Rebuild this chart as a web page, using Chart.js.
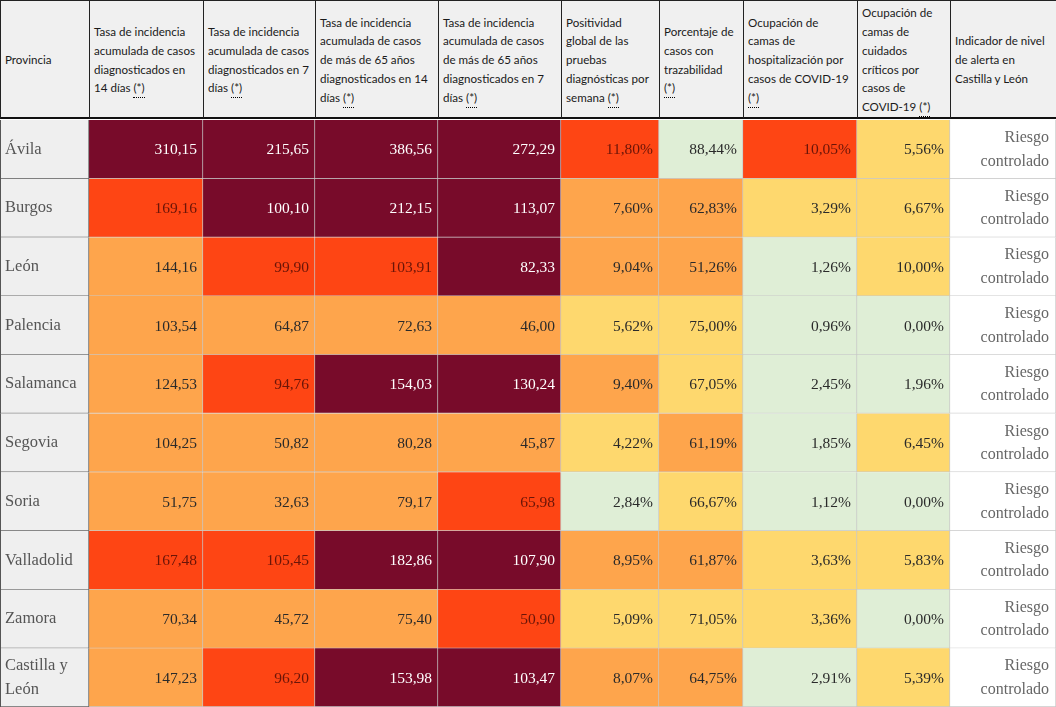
<!DOCTYPE html>
<html lang="es">
<head>
    <meta charset="UTF-8">
    <title>Indicadores COVID-19 Castilla y León</title>
    <script src="https://cdn.jsdelivr.net/npm/chart.js"></script>
    <style>
        body { margin: 0; background: #fff; }
        #wrap { position: relative; width: 1056px; height: 707px; overflow: hidden; }
        #cabecera { position: absolute; left: 0; top: 0; width: 1056px; height: 120px; }
        .th {
            position: absolute; top: 0; height: 119px; box-sizing: border-box;
            background: #f0f0f0; border-top: 1px solid #222; border-left: 1px solid #222;
            border-bottom: 2px solid #111; display: flex; align-items: center;
            padding: 3px 4px 0 4px; font-family: Lato, sans-serif; font-size: 11.6px;
            line-height: 18.8px; color: #1a1a1a; white-space: nowrap;
        }
        .th abbr { text-decoration: none; border-bottom: 1px dotted #000; padding-bottom: 3px; }
        #zona { position: absolute; left: 0; top: 120px; }
    </style>
</head>
<body>
<div id="wrap">
    <div id="cabecera"></div>
    <div id="zona"><canvas id="tabla" width="1056" height="587"></canvas></div>
</div>
<script>
    // datos
    const provincias = ['Ávila', 'Burgos', 'León', 'Palencia', 'Salamanca', 'Segovia', 'Soria', 'Valladolid', 'Zamora', 'Castilla y León'];
    const ia14 = [310.15, 169.16, 144.16, 103.54, 124.53, 104.25, 51.75, 167.48, 70.34, 147.23];
    const ia7 = [215.65, 100.10, 99.90, 64.87, 94.76, 50.82, 32.63, 105.45, 45.72, 96.20];
    const ia14Mayores = [386.56, 212.15, 103.91, 72.63, 154.03, 80.28, 79.17, 182.86, 75.40, 153.98];
    const ia7Mayores = [272.29, 113.07, 82.33, 46.00, 130.24, 45.87, 65.98, 107.90, 50.90, 103.47];
    const positividad = [11.80, 7.60, 9.04, 5.62, 9.40, 4.22, 2.84, 8.95, 5.09, 8.07];
    const trazabilidad = [88.44, 62.83, 51.26, 75.00, 67.05, 61.19, 66.67, 61.87, 71.05, 64.75];
    const camasHosp = [10.05, 3.29, 1.26, 0.96, 2.45, 1.85, 1.12, 3.63, 3.36, 2.91];
    const camasUci = [5.56, 6.67, 10.00, 0.00, 1.96, 6.45, 0.00, 5.83, 0.00, 5.39];
    const indicador = provincias.map(() => 'Riesgo controlado');

    // nivel de riesgo de cada celda: 0 nueva normalidad, 1 bajo, 2 medio, 3 alto, 4 muy alto
    const nivelIa14 = [4, 3, 2, 2, 2, 2, 2, 3, 2, 2];
    const nivelIa7 = [4, 4, 3, 2, 3, 2, 2, 3, 2, 3];
    const nivelIa14Mayores = [4, 4, 3, 2, 4, 2, 2, 4, 2, 4];
    const nivelIa7Mayores = [4, 4, 4, 2, 4, 2, 3, 4, 3, 4];
    const nivelPositividad = [3, 2, 2, 1, 2, 1, 0, 2, 1, 2];
    const nivelTrazabilidad = [0, 2, 2, 1, 1, 2, 1, 2, 1, 2];
    const nivelCamasHosp = [3, 1, 0, 0, 0, 0, 0, 1, 1, 0];
    const nivelCamasUci = [1, 1, 1, 0, 0, 1, 0, 1, 0, 1];

    const ast = '<abbr>(*)</abbr>';
    const cabeceras = [
        ['Provincia'],
        ['Tasa de incidencia', 'acumulada de casos', 'diagnosticados en', '14 días ' + ast],
        ['Tasa de incidencia', 'acumulada de casos', 'diagnosticados en 7', 'días ' + ast],
        ['Tasa de incidencia', 'acumulada de casos', 'de más de 65 años', 'diagnosticados en 14', 'días ' + ast],
        ['Tasa de incidencia', 'acumulada de casos', 'de más de 65 años', 'diagnosticados en 7', 'días ' + ast],
        ['Positividad', 'global de las', 'pruebas', 'diagnósticas por', 'semana ' + ast],
        ['Porcentaje de', 'casos con', 'trazabilidad', ast],
        ['Ocupación de', 'camas de', 'hospitalización por', 'casos de COVID-19', ast],
        ['Ocupación de', 'camas de', 'cuidados', 'críticos por', 'casos de', 'COVID-19 ' + ast],
        ['Indicador de nivel', 'de alerta en', 'Castilla y León']
    ];

    // maquetación
    const bordes = [0, 89, 203, 315, 438, 561, 659, 743, 857, 950, 1056];
    const anchos = bordes.slice(1).map((b, i) => b - bordes[i]);
    const colores = ['#dfeed6', '#fed86e', '#fea54c', '#fe4514', '#780b2a'];
    const textoNivel = ['#2a2a2a', '#2a2a2a', '#2a2a2a', '#6a1508', '#ffffff'];

    const cab = document.getElementById('cabecera');
    cabeceras.forEach((lineas, i) => {
        const d = document.createElement('div');
        d.className = 'th';
        d.style.left = bordes[i] + 'px';
        d.style.width = (anchos[i] + 1) + 'px';
        if (i === cabeceras.length - 1) d.style.borderRight = '1px solid #222';
        d.innerHTML = '<span>' + lineas.join('<br>') + '</span>';
        cab.appendChild(d);
    });

    const fmt = (v, pct) => v.toFixed(2).replace('.', ',') + (pct ? '%' : '');

    const columnas = [
        { textos: provincias, fondo: provincias.map(() => '#efefef'), tipo: 'prov' },
        { valores: ia14, niveles: nivelIa14 },
        { valores: ia7, niveles: nivelIa7 },
        { valores: ia14Mayores, niveles: nivelIa14Mayores },
        { valores: ia7Mayores, niveles: nivelIa7Mayores },
        { valores: positividad, niveles: nivelPositividad, pct: true },
        { valores: trazabilidad, niveles: nivelTrazabilidad, pct: true },
        { valores: camasHosp, niveles: nivelCamasHosp, pct: true },
        { valores: camasUci, niveles: nivelCamasUci, pct: true },
        { textos: indicador, fondo: indicador.map(() => '#ffffff'), tipo: 'ind' }
    ];

    const datasets = columnas.map((c, i) => ({
        label: 'col' + i,
        data: provincias.map(() => anchos[i]),
        backgroundColor: c.fondo || c.niveles.map(n => colores[n]),
        borderColor: i === 0 ? '#666' : 'rgba(190,190,190,0.85)',
        borderWidth: { top: 0, left: 0, right: 1, bottom: 1 },
        borderSkipped: false,
        barPercentage: 1,
        categoryPercentage: 1
    }));

    const textosCeldas = {
        id: 'textosCeldas',
        afterDatasetsDraw(chart) {
            const ctx = chart.ctx;
            ctx.save();
            ctx.textBaseline = 'middle';
            columnas.forEach((c, i) => {
                const meta = chart.getDatasetMeta(i);
                meta.data.forEach((el, j) => {
                    const izq = Math.min(el.x, el.base), der = Math.max(el.x, el.base);
                    if (c.tipo === 'prov') {
                        ctx.font = '16.5px "Liberation Serif", serif';
                        ctx.fillStyle = '#555';
                        ctx.textAlign = 'left';
                        const p = c.textos[j];
                        if (p === 'Castilla y León') {
                            ctx.fillText('Castilla y', izq + 5, el.y - 12);
                            ctx.fillText('León', izq + 5, el.y + 12);
                        } else {
                            ctx.fillText(p, izq + 5, el.y);
                        }
                    } else if (c.tipo === 'ind') {
                        ctx.font = '16px "Liberation Serif", serif';
                        ctx.fillStyle = '#666';
                        ctx.textAlign = 'right';
                        const partes = c.textos[j].split(' ');
                        ctx.fillText(partes[0], der - 7, el.y - 11.5);
                        ctx.fillText(partes[1], der - 7, el.y + 12);
                    } else {
                        ctx.font = '15.5px "Liberation Serif", serif';
                        ctx.fillStyle = textoNivel[c.niveles[j]];
                        ctx.textAlign = 'right';
                        ctx.fillText(fmt(c.valores[j], c.pct), der - 6, el.y + 1);
                    }
                });
            });
            ctx.strokeStyle = '#555';
            ctx.lineWidth = 1;
            ctx.beginPath();
            ctx.moveTo(0.5, 0);
            ctx.lineTo(0.5, chart.height);
            ctx.stroke();
            ctx.restore();
        }
    };

    new Chart(document.getElementById('tabla'), {
        type: 'bar',
        data: { labels: provincias, datasets: datasets },
        options: {
            indexAxis: 'y',
            responsive: false,
            animation: false,
            layout: { padding: 0 },
            plugins: { legend: { display: false }, tooltip: { enabled: false } },
            scales: {
                x: { stacked: true, display: false, min: 0, max: bordes[bordes.length - 1] },
                y: { stacked: true, display: false }
            }
        },
        plugins: [textosCeldas]
    });
</script>
</body>
</html>
